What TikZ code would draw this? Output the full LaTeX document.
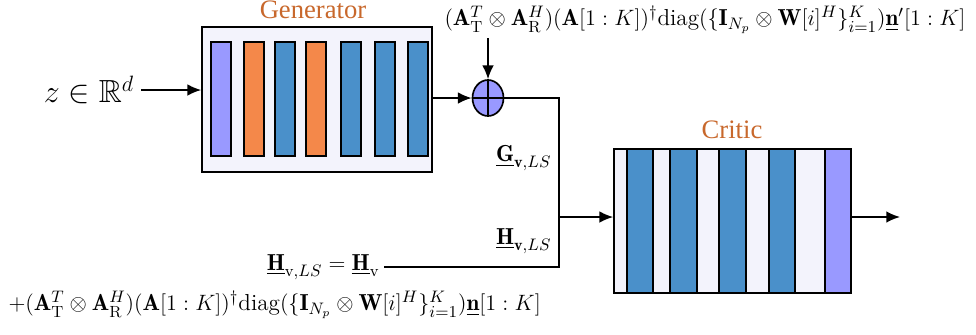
\documentclass[tikz,border=0pt]{standalone}
\usepackage{amsmath,amssymb}
\usepackage{fontspec}
\newfontfamily\labelfont{Liberation Serif}
\usetikzlibrary{fit,shapes.geometric,arrows.meta}
\definecolor{lav}{RGB}{243,243,252}
\definecolor{purp}{RGB}{153,153,255}
\definecolor{orng}{RGB}{244,136,74}
\definecolor{blu}{RGB}{74,144,202}
\definecolor{title}{RGB}{200,104,44}
\begin{document}
\begin{tikzpicture}[
    x=0.019cm, y=-0.019cm,
    >={Latex[length=2.6mm, width=2.2mm]},
    line width=0.9pt,
    netbox/.style={draw, fill=lav, inner sep=0pt},
    bar/.style={draw, inner sep=0pt},
    titletext/.style={font=\labelfont\Large, text=title},
    mathlab/.style={font=\fontsize{12.5}{15}\selectfont, inner sep=2pt},
    adder/.style={ellipse, draw, fill=purp, minimum width=31*0.019cm, minimum height=36*0.019cm, inner sep=0pt}
]
  \useasboundingbox (0,0) rectangle (976,334);

  % generator
  \node[netbox, fit={(202,27) (432,172)}] (gen) {};
  \node[titletext] (genname) at (313,10) {Generator};
  \foreach \i/\a/\c in {1/211/purp, 2/244/orng, 3/275/blu, 4/306/orng, 5/341/blu, 6/375/blu, 7/408/blu}
    \node[bar, fill=\c, fit={(\a,42) (\a+20,156)}] (g\i) {};

  % critic
  \foreach \a/\b/\c in {614/627/lav, 627/653/blu, 653/670/lav, 670/697/blu, 697/719/lav,
                         719/746/blu, 746/769/lav, 769/795/blu, 795/825/lav, 825/851/purp}
    \filldraw[fill=\c] (\a,149) rectangle (\b,293);
  \node[draw, inner sep=0pt, fit={(614,149) (851,293)}] (crit) {};
  \node[titletext] (critname) at (732,130) {Critic};

  % nodes
  \node (z) at (89,90) {\LARGE $z\in\mathbb{R}^d$};
  \node[adder] (add) at (488,98) {};
  \draw (add.north) -- (add.south) (add.west) -- (add.east);
  \node[mathlab, anchor=west] (noise) at (440,20)
    {$(\mathbf{A}_\mathrm{T}^T\otimes\mathbf{A}_\mathrm{R}^H)(\mathbf{A}[1:K])^\dagger\mathrm{diag}(\{\mathbf{I}_{N_p}\otimes\mathbf{W}[i]^H\}_{i=1}^K)\underline{\mathbf{n}}'[1:K]$};
  \node[mathlab, anchor=east] (glab) at (556,158) {$\underline{\mathbf{G}}_{\mathbf{v},LS}$};
  \node[mathlab, anchor=east] (hlab) at (556,241) {$\underline{\mathbf{H}}_{\mathbf{v},LS}$};
  \node[mathlab, anchor=east] (hls) at (384,267) {$\underline{\mathbf{H}}_{\mathrm{v},LS}=\underline{\mathbf{H}}_\mathrm{v}$};
  \node[mathlab, anchor=west] (hnoise) at (4,305)
    {$+(\mathbf{A}_\mathrm{T}^T\otimes\mathbf{A}_\mathrm{R}^H)(\mathbf{A}[1:K])^\dagger\mathrm{diag}(\{\mathbf{I}_{N_p}\otimes\mathbf{W}[i]^H\}_{i=1}^K)\underline{\mathbf{n}}[1:K]$};
  \coordinate (j) at (559,217);
  \coordinate (out) at (900,217);

  % edges
  \draw[->] (z.east) -- (z.east -| gen.west);
  \draw[->] (gen.east |- add) -- (add);
  \draw[->] (noise.south -| add) -- (add);
  \draw (add.east) -| (j);
  \draw (hls.east) -| (j);
  \draw[->] (j) -- (j -| crit.west);
  \draw[->] (j -| crit.east) -- (out);
\end{tikzpicture}
\end{document}
